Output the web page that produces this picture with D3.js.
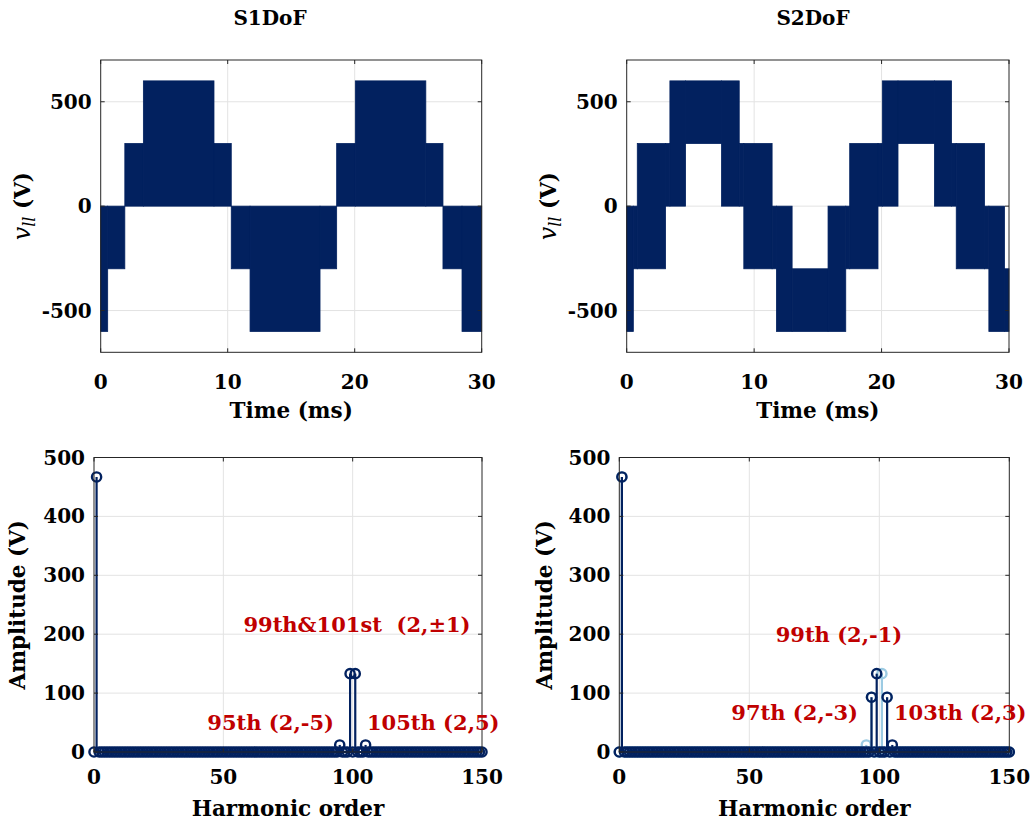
<!DOCTYPE html>
<html>
<head>
<meta charset="utf-8">
<script src="https://cdn.jsdelivr.net/npm/d3@7"></script>
<style>
  body { margin: 0; background: #fff; }
  text { font-family: "DejaVu Serif", serif; font-weight: bold; white-space: pre; }
</style>
</head>
<body>
<svg id="fig" width="1034" height="824"></svg>
<script>
// ---- Line-to-line voltage, switching envelopes (time in ms, voltage in V) ----
// Between consecutive edges the PWM output toggles inside [low, high].
const s1Edges = [0, 0.55, 1.9, 3.36, 8.92, 10.28, 11.76, 17.27, 18.58, 20.05, 25.6, 26.95, 28.45, 30];
const s1Low   = [-600, -300, 0, 0, 0, -300, -600, -300, 0, 0, 0, -300, -600];
const s1High  = [0, 0, 300, 600, 300, 0, 0, 0, 300, 600, 300, 0, 0];

const s2Edges = [0, 0.52, 0.83, 3.05, 3.39, 4.62, 7.44, 8.83, 9.19, 11.41, 11.75, 12.98, 15.8,
                 17.19, 17.5, 19.72, 20.06, 21.29, 24.15, 25.49, 25.86, 28.08, 28.42, 29.65, 30];
const s2Low   = [-600, -300, -300, 0, 0, 300, 0, 0, -300, -300, -600, -600, -600,
                 -300, -300, 0, 0, 300, 0, 0, -300, -300, -600, -600];
const s2High  = [0, 0, 300, 300, 600, 600, 600, 300, 300, 0, 0, -300, 0,
                 0, 300, 300, 600, 600, 600, 300, 300, 0, 0, -300];

// ---- Harmonic spectra (order, amplitude in V); all other orders are ~0 ----
const harmonicOrders = d3.range(0, 151);
const s1PeakOrders = [1, 95, 99, 101, 105];
const s1PeakAmps   = [467, 12, 133, 133, 12];
const s2PeakOrders = [1, 97, 99, 103, 105];
const s2PeakAmps   = [467, 93, 133, 93, 12];
const s2bPeakOrders = [1, 95, 97, 101, 103];
const s2bPeakAmps   = [467, 12, 93, 133, 93];

// ---- Tick values ----
const timeTicks  = [0, 10, 20, 30];
const voltTicks  = [-500, 0, 500];
const orderTicks = [0, 50, 100, 150];
const ampTicks   = [0, 100, 200, 300, 400, 500];

// ---- Text ----
const titles = ["S1DoF", "S2DoF"];
const s1Notes = ["99th&101st  (2,±1)", "95th (2,-5)", "105th (2,5)"];
const s2Notes = ["99th (2,-1)", "97th (2,-3)", "103th (2,3)"];

const NAVY = "#02215f";
const LIGHT = "#9ccbe3";
const RED = "#c00000";
const AXIS = "#262626";
const GRID = "#e3e3e3";
const FS = 20;      // tick labels
const LFS = 21.5;   // axis labels
const NFS = 21;     // annotations

const svg = d3.select("#fig");

function spectrum(peakOrders, peakAmps) {
  return harmonicOrders.map(n => {
    const i = peakOrders.indexOf(n);
    return { n, a: i >= 0 ? peakAmps[i] : 0 };
  });
}

function axesFrame(box, x, y, xTicks, yTicks) {
  const g = svg.append("g");
  g.selectAll(".gx").data(xTicks.filter(t => t !== x.domain()[0] && t !== x.domain()[1]))
    .join("line").attr("x1", d => x(d)).attr("x2", d => x(d))
    .attr("y1", box.y0).attr("y2", box.y1).attr("stroke", GRID).attr("stroke-width", 1);
  g.selectAll(".gy").data(yTicks.filter(t => t !== y.domain()[0] && t !== y.domain()[1]))
    .join("line").attr("y1", d => y(d)).attr("y2", d => y(d))
    .attr("x1", box.x0).attr("x2", box.x1).attr("stroke", GRID).attr("stroke-width", 1);
  return g;
}

function axesBox(box, x, y, xTicks, yTicks, xLabelY) {
  const g = svg.append("g");
  const tl = 4;
  g.append("rect").attr("x", box.x0).attr("y", box.y0)
    .attr("width", box.x1 - box.x0).attr("height", box.y1 - box.y0)
    .attr("fill", "none").attr("stroke", AXIS).attr("stroke-width", 1);
  xTicks.forEach(t => {
    g.append("line").attr("x1", x(t)).attr("x2", x(t)).attr("y1", box.y1).attr("y2", box.y1 - tl).attr("stroke", AXIS);
    g.append("line").attr("x1", x(t)).attr("x2", x(t)).attr("y1", box.y0).attr("y2", box.y0 + tl).attr("stroke", AXIS);
  });
  yTicks.forEach(t => {
    g.append("line").attr("y1", y(t)).attr("y2", y(t)).attr("x1", box.x0).attr("x2", box.x0 + tl).attr("stroke", AXIS);
    g.append("line").attr("y1", y(t)).attr("y2", y(t)).attr("x1", box.x1).attr("x2", box.x1 - tl).attr("stroke", AXIS);
  });
  g.selectAll(".xt").data(xTicks).join("text")
    .attr("x", d => x(d)).attr("y", xLabelY).attr("text-anchor", "middle")
    .attr("font-size", FS).attr("fill", "#000").text(d => d);
  g.selectAll(".yt").data(yTicks).join("text")
    .attr("x", box.x0 - 9).attr("y", d => y(d) + 7).attr("text-anchor", "end")
    .attr("font-size", FS).attr("fill", "#000").text(d => d);
  return g;
}

// ---------- Time-domain panels ----------
function timePanel(box, edges, low, high, title, titleX, ylabX) {
  const x = d3.scaleLinear().domain([0, 30]).range([box.x0, box.x1]);
  const y = d3.scaleLinear().domain([-700, 700]).range([box.y1, box.y0]);
  axesFrame(box, x, y, timeTicks, voltTicks);
  const bands = low.map((lo, i) => ({ t0: edges[i], t1: edges[i + 1], lo, hi: high[i] }));
  svg.append("g").selectAll("rect").data(bands).join("rect")
    .attr("x", d => x(d.t0)).attr("width", d => x(d.t1) - x(d.t0))
    .attr("y", d => y(d.hi)).attr("height", d => Math.max(1, y(d.lo) - y(d.hi)))
    .attr("fill", NAVY).attr("stroke", NAVY).attr("stroke-width", 0.8);
  axesBox(box, x, y, timeTicks, voltTicks, 389);
  svg.append("text").attr("x", (box.x0 + box.x1) / 2).attr("y", 418)
    .attr("text-anchor", "middle").attr("font-size", LFS).text("Time (ms)");
  svg.append("text").attr("x", titleX).attr("y", 25)
    .attr("text-anchor", "middle").attr("font-size", FS).text(title);
  const yl = svg.append("text").attr("transform", `translate(${ylabX},${y(0)}) rotate(-90)`)
    .attr("text-anchor", "middle").attr("font-size", LFS);
  yl.append("tspan").attr("font-style", "italic").attr("font-weight", "normal").attr("font-size", 24).text("v");
  yl.append("tspan").attr("font-style", "italic").attr("font-weight", "normal").attr("font-size", 16).attr("dy", 5).text("ll");
  yl.append("tspan").attr("dy", -5).text(" (V)");
}

timePanel({ x0: 100.7, x1: 481.7, y0: 60, y1: 352.3 }, s1Edges, s1Low, s1High, titles[0], 270, 30);
timePanel({ x0: 626.7, x1: 1009, y0: 60, y1: 352.3 }, s2Edges, s2Low, s2High, titles[1], 813, 556);

// ---------- Spectrum panels ----------
function stems(g, x, y, data, color) {
  g.append("line").attr("x1", x(0)).attr("x2", x(150)).attr("y1", y(0)).attr("y2", y(0))
    .attr("stroke", color).attr("stroke-width", 2);
  g.selectAll(null).data(data).join("line")
    .attr("x1", d => x(d.n)).attr("x2", d => x(d.n)).attr("y1", y(0)).attr("y2", d => y(d.a))
    .attr("stroke", color).attr("stroke-width", 2.2);
  g.selectAll(null).data(data).join("circle")
    .attr("cx", d => x(d.n)).attr("cy", d => y(d.a)).attr("r", 4.6)
    .attr("fill", "none").attr("stroke", color).attr("stroke-width", 2.4);
}

function specPanel(box, series, notes, ylabX) {
  const x = d3.scaleLinear().domain([0, 150]).range([box.x0, box.x1]);
  const y = d3.scaleLinear().domain([0, 500]).range([box.y1, box.y0]);
  axesFrame(box, x, y, orderTicks, ampTicks);
  const g = svg.append("g");
  series.forEach(s => stems(g, x, y, s.data, s.color));
  axesBox(box, x, y, orderTicks, ampTicks, 784);
  svg.append("text").attr("x", (box.x0 + box.x1) / 2).attr("y", 816)
    .attr("text-anchor", "middle").attr("font-size", LFS).text("Harmonic order");
  svg.append("text").attr("transform", `translate(${ylabX},${(box.y0 + box.y1) / 2}) rotate(-90)`)
    .attr("text-anchor", "middle").attr("font-size", LFS).text("Amplitude (V)");
  notes.forEach(nt => {
    svg.append("text").attr("x", nt.x).attr("y", nt.y).attr("text-anchor", nt.anchor)
      .attr("font-size", NFS).attr("fill", RED).text(nt.text);
  });
}

specPanel({ x0: 94, x1: 482, y0: 457.5, y1: 752 },
  [{ data: spectrum(s1PeakOrders, s1PeakAmps), color: NAVY }],
  [{ text: s1Notes[0], x: 357, y: 632, anchor: "middle" },
   { text: s1Notes[1], x: 334, y: 730, anchor: "end" },
   { text: s1Notes[2], x: 367, y: 730, anchor: "start" }], 25);

specPanel({ x0: 619.3, x1: 1009.3, y0: 457.5, y1: 752 },
  [{ data: spectrum(s2bPeakOrders, s2bPeakAmps), color: LIGHT },
   { data: spectrum(s2PeakOrders, s2PeakAmps), color: NAVY }],
  [{ text: s2Notes[0], x: 839, y: 642, anchor: "middle" },
   { text: s2Notes[1], x: 858, y: 720, anchor: "end" },
   { text: s2Notes[2], x: 894, y: 720, anchor: "start" }], 552);
</script>
</body>
</html>
